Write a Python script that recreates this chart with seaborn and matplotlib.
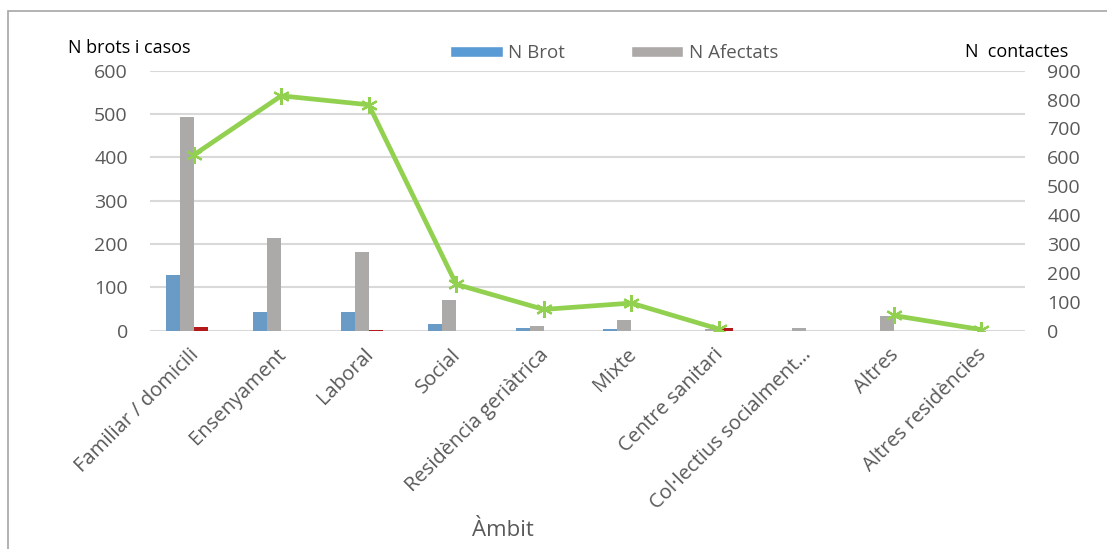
import numpy as np
import pandas as pd
import matplotlib
matplotlib.use("Agg")
import matplotlib.pyplot as plt
from matplotlib.patches import Patch, Rectangle
import seaborn as sns

categories = ["Familiar / domicili", "Ensenyament", "Laboral", "Social",
              "Residència geriàtrica", "Mixte", "Centre sanitari",
              "Col·lectius socialment…", "Altres", "Altres residències"]
n_brot = [128, 43, 43, 15, 5, 4, 0, 0, 0, 0]
n_afectats = [494, 214, 182, 70, 10, 25, 4, 6, 34, 0]
n_altres = [7, 0, 2, 0, 0, 0, 6, 0, 0, 0]
n_pad = [0, 0, 0, 0, 0, 0, 0, 0, 0, 0]
n_contactes = [608, 813, 782, 160, 73, 95, 5, np.nan, 52, 3]

left_ticks = [0, 100, 200, 300, 400, 500, 600]
right_ticks = [0, 100, 200, 300, 400, 500, 600, 700, 800, 900]

series_names = ["N Brot", "N Afectats", "N Altres", "_pad"]
series_colors = ["#5B9BD5", "#ADA9A8", "#CC0000", "#FFFFFF"]

df = pd.DataFrame({
    "Àmbit": categories * 4,
    "valor": n_brot + n_afectats + n_altres + n_pad,
    "serie": sum([[s] * len(categories) for s in series_names], []),
})

# line data: split into segments where values are missing (gaps in the line)
cont = pd.DataFrame({"pos": np.arange(len(categories)), "contactes": n_contactes})
cont["segment"] = cont["contactes"].isna().cumsum()
cont = cont.dropna()

sns.set_theme(style="white")
plt.rcParams["font.family"] = ["Open Sans", "DejaVu Sans"]

W, H = 1107, 549
fig = plt.figure(figsize=(W / 100, H / 100), dpi=100)
ax = fig.add_axes([150 / W, 1 - 330.5 / H, 875 / W, (330.5 - 70.7) / H])

sns.barplot(data=df, x="Àmbit", y="valor", hue="serie", hue_order=series_names,
            palette=series_colors, width=0.64, gap=0, ax=ax, linewidth=0,
            legend=False, order=categories, zorder=2)

ax.set_ylim(0, 600)
ax.set_xlim(-0.5, len(categories) - 0.5)
ax.set_yticks(left_ticks)
ax.yaxis.grid(True, color="#D9D9D9", lw=1.5, zorder=0)
ax.set_axisbelow(True)
for s in ax.spines.values():
    s.set_visible(False)
ax.set_xlabel("")
ax.set_ylabel("")
ax.tick_params(axis="y", length=0, pad=16, labelsize=14, labelcolor="#595959")
ax.tick_params(axis="x", length=0, pad=6, labelsize=14.5, labelcolor="#595959")
ax.set_xticks(range(len(categories)))
ax.set_xticklabels(categories, rotation=45, ha="right", rotation_mode="anchor", va="center")
for lbl in ax.get_xticklabels():
    lbl.set_transform(lbl.get_transform() + matplotlib.transforms.ScaledTranslation(2 / 100, -13 / 100, fig.dpi_scale_trans))

ax2 = ax.twinx()
sns.lineplot(data=cont, x="pos", y="contactes", units="segment", estimator=None,
             ax=ax2, color="#92D050",
             lw=3.4, marker=(6, 2, 0), markersize=12, markeredgewidth=1.6,
             markeredgecolor="#92D050", zorder=5)
ax2.set_ylim(0, 900)
ax2.set_yticks(right_ticks)
for s in ax2.spines.values():
    s.set_visible(False)
ax2.tick_params(axis="y", length=0, pad=16, labelsize=14, labelcolor="#595959")
ax2.set_ylabel("")
ax2.set_xlabel("")
ax2.grid(False)

fig.text(68 / W, 1 - 48 / H, "N brots i casos", fontsize=13, color="black", va="center", ha="left")
fig.text(1017 / W, 1 - 52 / H, "N  contactes", fontsize=13, color="black", va="center", ha="center")
fig.text(503 / W, 1 - 530 / H, "Àmbit", fontsize=16, color="#595959", va="center", ha="center")

handles = [Patch(facecolor=series_colors[0], label=series_names[0]),
           Patch(facecolor=series_colors[1], label=series_names[1])]
leg = fig.legend(handles=handles, loc="center left", bbox_to_anchor=(450 / W, 1 - 53 / H),
                 ncol=2, frameon=False, fontsize=13.5, handlelength=2.8, handleheight=0.55,
                 handletextpad=0.3, columnspacing=3.5, labelcolor="#595959", borderaxespad=0, borderpad=0)

fig.add_artist(Rectangle((8 / W, -0.1), 1.2, 1.1 - 11 / H, transform=fig.transFigure,
                         fill=False, ec="#A6A6A6", lw=1.2))

fig.savefig("out.png", dpi=100)
